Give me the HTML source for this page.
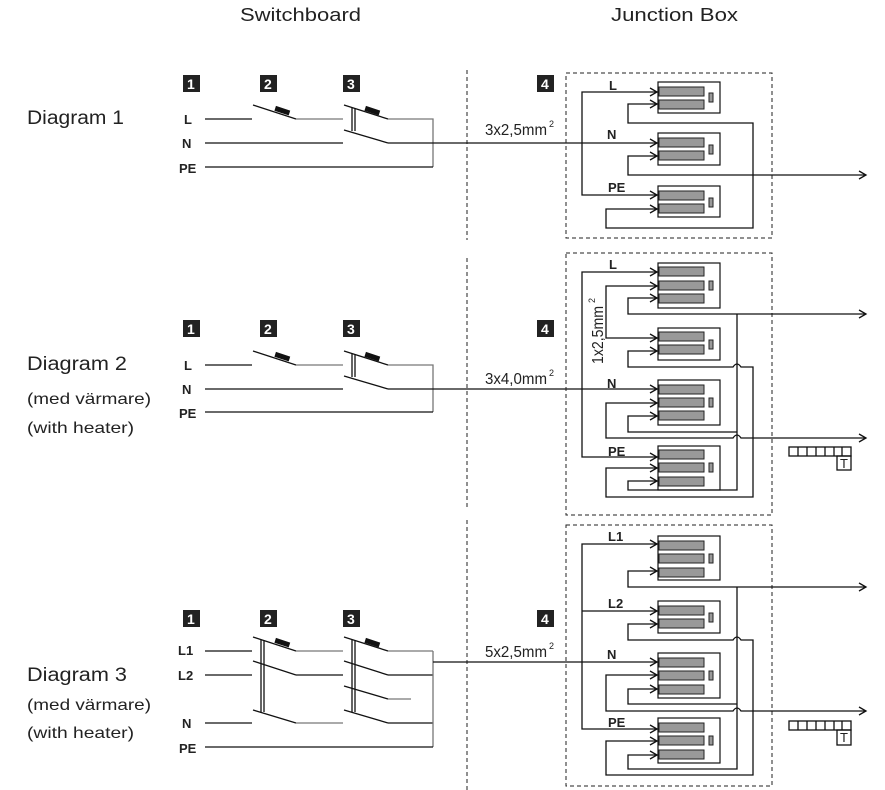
<!DOCTYPE html>
<html><head><meta charset="utf-8"><style>
html,body{margin:0;padding:0;background:#fff;}
svg{display:block;}
.t{font-family:"Liberation Sans",sans-serif;fill:#222;}
.lb{font-family:"Liberation Sans",sans-serif;font-weight:bold;font-size:13px;fill:#222;}
.nb{font-family:"Liberation Sans",sans-serif;font-weight:bold;font-size:14px;fill:#fff;}
.w{stroke:#111;stroke-width:1.3;fill:none;}
.g{stroke:#777;stroke-width:1.3;fill:none;}
.d{stroke:#222;stroke-width:1;fill:none;stroke-dasharray:4,3;}
.blk{fill:#fff;stroke:#111;stroke-width:1.2;}
.bar{fill:#999;stroke:#222;stroke-width:1;}
.cab{font-family:"Liberation Sans Narrow","Liberation Sans",sans-serif;fill:#222;}
</style></head><body>
<svg width="885" height="790" viewBox="0 0 885 790" xmlns="http://www.w3.org/2000/svg">
<text class="t" x="240" y="21" font-size="18" textLength="121" lengthAdjust="spacingAndGlyphs">Switchboard</text>
<text class="t" x="611" y="21" font-size="18" textLength="127" lengthAdjust="spacingAndGlyphs">Junction Box</text>

<line class="d" x1="467" y1="70" x2="467" y2="240"/>
<line class="d" x1="467" y1="258" x2="467" y2="510"/>
<line class="d" x1="467" y1="520" x2="467" y2="790"/>

<!-- ========== Diagram 1 ========== -->
<text class="t" x="27" y="124" font-size="19" textLength="97" lengthAdjust="spacingAndGlyphs">Diagram 1</text>
<rect x="183" y="75" width="17" height="17" fill="#222"/><text class="nb" x="187" y="89">1</text>
<rect x="260" y="75" width="17" height="17" fill="#222"/><text class="nb" x="264" y="89">2</text>
<rect x="343" y="75" width="17" height="17" fill="#222"/><text class="nb" x="347" y="89">3</text>
<rect x="537" y="75" width="17" height="17" fill="#222"/><text class="nb" x="541" y="89">4</text>
<text class="lb" x="184" y="124">L</text><text class="lb" x="182" y="148">N</text><text class="lb" x="179" y="173">PE</text>
<line class="w" x1="205" y1="119" x2="252" y2="119"/>
<line class="w" x1="253" y1="105" x2="296" y2="119"/>
<rect x="275" y="108" width="15" height="5" fill="#111" transform="rotate(18 282 110)"/>
<line class="g" x1="296" y1="119" x2="343" y2="119"/>
<line class="w" x1="344" y1="105" x2="388" y2="119"/>
<rect x="365" y="108" width="15" height="5" fill="#111" transform="rotate(18 372 110)"/>
<line class="w" x1="352" y1="108" x2="352" y2="131"/><line class="w" x1="355" y1="108" x2="355" y2="131"/>
<polyline class="g" points="388,119 433,119 433,167"/>
<line class="w" x1="205" y1="143" x2="343" y2="143"/>
<line class="w" x1="344" y1="130" x2="388" y2="143"/>
<line class="w" x1="205" y1="167" x2="433" y2="167"/>
<line class="w" x1="388" y1="143" x2="658" y2="143"/>
<text class="cab" x="485" y="135" style="font-size:16px" textLength="62" lengthAdjust="spacingAndGlyphs">3x2,5mm</text><text class="cab" x="549" y="127" style="font-size:9px">2</text>

<rect class="d" x="566" y="73" width="206" height="165"/>
<text class="lb" x="609" y="90">L</text><text class="lb" x="607" y="139">N</text><text class="lb" x="608" y="192">PE</text>
<rect class="blk" x="658" y="82" width="62" height="31"/><rect class="bar" x="659" y="87" width="45" height="9"/><rect class="bar" x="659" y="100" width="45" height="9"/><rect class="bar" x="709" y="93" width="4" height="9"/>
<rect class="blk" x="658" y="133" width="62" height="32"/><rect class="bar" x="659" y="138" width="45" height="9"/><rect class="bar" x="659" y="151" width="45" height="9"/><rect class="bar" x="709" y="145" width="4" height="9"/>
<rect class="blk" x="658" y="186" width="62" height="31"/><rect class="bar" x="659" y="191" width="45" height="9"/><rect class="bar" x="659" y="204" width="45" height="9"/><rect class="bar" x="709" y="198" width="4" height="9"/>
<polyline class="w" points="658,92 582,92 582,195 658,195"/>
<polyline class="w" points="658,104 628,104 628,123 753,123 753,228 606,228 606,209 658,209"/>
<polyline class="w" points="658,156 628,156 628,175 866,175"/>
<path class="w" d="M650,88 L657,92 L650,96 M650,100 L657,104 L650,108 M650,139 L657,143 L650,147 M650,152 L657,156 L650,160 M650,191 L657,195 L650,199 M650,205 L657,209 L650,213 M859,171 L866,175 L859,179"/>

<!-- ========== Diagram 2 ========== -->
<text class="t" x="27" y="370" font-size="19" textLength="100" lengthAdjust="spacingAndGlyphs">Diagram 2</text>
<text class="t" x="27" y="404" font-size="16" textLength="124" lengthAdjust="spacingAndGlyphs">(med värmare)</text>
<text class="t" x="27" y="433" font-size="16" textLength="107" lengthAdjust="spacingAndGlyphs">(with heater)</text>
<rect x="183" y="320" width="17" height="17" fill="#222"/><text class="nb" x="187" y="334">1</text>
<rect x="260" y="320" width="17" height="17" fill="#222"/><text class="nb" x="264" y="334">2</text>
<rect x="343" y="320" width="17" height="17" fill="#222"/><text class="nb" x="347" y="334">3</text>
<rect x="537" y="320" width="17" height="17" fill="#222"/><text class="nb" x="541" y="334">4</text>
<text class="lb" x="184" y="370">L</text><text class="lb" x="182" y="394">N</text><text class="lb" x="179" y="418">PE</text>
<line class="w" x1="205" y1="365" x2="252" y2="365"/>
<line class="w" x1="253" y1="351" x2="296" y2="365"/>
<rect x="275" y="354" width="15" height="5" fill="#111" transform="rotate(18 282 356)"/>
<line class="g" x1="296" y1="365" x2="343" y2="365"/>
<line class="w" x1="344" y1="351" x2="388" y2="365"/>
<rect x="365" y="354" width="15" height="5" fill="#111" transform="rotate(18 372 356)"/>
<line class="w" x1="352" y1="354" x2="352" y2="377"/><line class="w" x1="355" y1="354" x2="355" y2="377"/>
<polyline class="g" points="388,365 433,365 433,412"/>
<line class="w" x1="205" y1="389" x2="343" y2="389"/>
<line class="w" x1="344" y1="376" x2="388" y2="389"/>
<line class="w" x1="205" y1="412" x2="433" y2="412"/>
<line class="w" x1="388" y1="389" x2="658" y2="389"/>
<text class="cab" x="485" y="384" style="font-size:16px" textLength="62" lengthAdjust="spacingAndGlyphs">3x4,0mm</text><text class="cab" x="549" y="376" style="font-size:9px">2</text>

<rect class="d" x="566" y="253" width="206" height="262"/>
<text class="lb" x="609" y="269">L</text><text class="lb" x="607" y="388">N</text><text class="lb" x="608" y="456">PE</text>
<text class="cab" transform="translate(603,364) rotate(-90)" x="0" y="0" style="font-size:16px" textLength="58" lengthAdjust="spacingAndGlyphs">1x2,5mm</text><text class="cab" transform="translate(595,303) rotate(-90)" style="font-size:9px">2</text>
<rect class="blk" x="658" y="263" width="62" height="45"/><rect class="bar" x="659" y="267" width="45" height="9"/><rect class="bar" x="659" y="281" width="45" height="9"/><rect class="bar" x="659" y="294" width="45" height="9"/><rect class="bar" x="709" y="281" width="4" height="9"/>
<rect class="blk" x="658" y="328" width="62" height="32"/><rect class="bar" x="659" y="332" width="45" height="9"/><rect class="bar" x="659" y="345" width="45" height="9"/><rect class="bar" x="709" y="340" width="4" height="9"/>
<rect class="blk" x="658" y="380" width="62" height="45"/><rect class="bar" x="659" y="385" width="45" height="9"/><rect class="bar" x="659" y="398" width="45" height="9"/><rect class="bar" x="659" y="411" width="45" height="9"/><rect class="bar" x="709" y="398" width="4" height="9"/>
<rect class="blk" x="658" y="446" width="62" height="44"/><rect class="bar" x="659" y="450" width="45" height="9"/><rect class="bar" x="659" y="463" width="45" height="9"/><rect class="bar" x="659" y="477" width="45" height="9"/><rect class="bar" x="709" y="463" width="4" height="9"/>
<polyline class="w" points="658,272 582,272 582,457 658,457"/>
<polyline class="w" points="658,286 606,286 606,338 658,338"/>
<polyline class="w" points="658,298 628,298 628,314 866,314"/>
<path class="w" d="M658,351 L628,351 L628,367 L733,367 Q737,361 741,367 L753,367 L753,497 L606,497 L606,468 L658,468"/>
<path class="w" d="M658,403 L606,403 L606,438 L733,438 Q737,432 741,438 L866,438"/>
<polyline class="w" points="658,416 628,416 628,432 737,432"/>
<polyline class="w" points="737,314 737,490 628,490 628,481 658,481"/>
<path class="w" d="M650,268 L657,272 L650,276 M650,282 L657,286 L650,290 M650,294 L657,298 L650,302 M650,334 L657,338 L650,342 M650,347 L657,351 L650,355 M650,385 L657,389 L650,393 M650,399 L657,403 L650,407 M650,412 L657,416 L650,420 M650,453 L657,457 L650,461 M650,464 L657,468 L650,472 M650,477 L657,481 L650,485 M859,310 L866,314 L859,318 M859,434 L866,438 L859,442"/>
<g class="w" stroke-width="1">
<rect x="789" y="447" width="62" height="9"/>
<line x1="798" y1="447" x2="798" y2="456"/><line x1="807" y1="447" x2="807" y2="456"/><line x1="816" y1="447" x2="816" y2="456"/><line x1="825" y1="447" x2="825" y2="456"/><line x1="834" y1="447" x2="834" y2="456"/><line x1="842" y1="447" x2="842" y2="456"/>
<rect x="837" y="456" width="14" height="14"/>
</g>
<text class="t" x="840" y="468" font-size="13">T</text>

<!-- ========== Diagram 3 ========== -->
<text class="t" x="27" y="681" font-size="19" textLength="100" lengthAdjust="spacingAndGlyphs">Diagram 3</text>
<text class="t" x="27" y="710" font-size="16" textLength="124" lengthAdjust="spacingAndGlyphs">(med värmare)</text>
<text class="t" x="27" y="738" font-size="16" textLength="107" lengthAdjust="spacingAndGlyphs">(with heater)</text>
<rect x="183" y="610" width="17" height="17" fill="#222"/><text class="nb" x="187" y="624">1</text>
<rect x="260" y="610" width="17" height="17" fill="#222"/><text class="nb" x="264" y="624">2</text>
<rect x="343" y="610" width="17" height="17" fill="#222"/><text class="nb" x="347" y="624">3</text>
<rect x="537" y="610" width="17" height="17" fill="#222"/><text class="nb" x="541" y="624">4</text>
<text class="lb" x="178" y="655">L1</text><text class="lb" x="178" y="680">L2</text><text class="lb" x="182" y="728">N</text><text class="lb" x="179" y="753">PE</text>
<line class="w" x1="205" y1="651" x2="252" y2="651"/>
<line class="w" x1="205" y1="675" x2="252" y2="675"/>
<line class="w" x1="205" y1="723" x2="252" y2="723"/>
<line class="w" x1="253" y1="637" x2="296" y2="651"/>
<line class="w" x1="253" y1="661" x2="296" y2="675"/>
<line class="w" x1="253" y1="710" x2="296" y2="723"/>
<rect x="275" y="640" width="15" height="5" fill="#111" transform="rotate(18 282 642)"/>
<line class="w" x1="261" y1="640" x2="261" y2="712"/><line class="w" x1="264" y1="640" x2="264" y2="712"/>
<line class="g" x1="296" y1="651" x2="343" y2="651"/>
<line class="w" x1="296" y1="675" x2="343" y2="675"/>
<line class="g" x1="296" y1="723" x2="343" y2="723"/>
<line class="w" x1="344" y1="637" x2="388" y2="651"/>
<line class="w" x1="344" y1="661" x2="388" y2="675"/>
<line class="w" x1="344" y1="686" x2="388" y2="699"/>
<line class="w" x1="344" y1="710" x2="388" y2="723"/>
<rect x="365" y="640" width="15" height="5" fill="#111" transform="rotate(18 372 642)"/>
<line class="w" x1="352" y1="640" x2="352" y2="712"/><line class="w" x1="355" y1="640" x2="355" y2="712"/>
<line class="g" x1="388" y1="651" x2="433" y2="651"/>
<line class="w" x1="388" y1="675" x2="433" y2="675"/>
<line class="g" x1="388" y1="699" x2="411" y2="699"/>
<line class="w" x1="388" y1="723" x2="433" y2="723"/>
<line class="g" x1="433" y1="651" x2="433" y2="747"/>
<line class="w" x1="205" y1="747" x2="433" y2="747"/>
<line class="w" x1="433" y1="662" x2="658" y2="662"/>
<text class="cab" x="485" y="657" style="font-size:16px" textLength="62" lengthAdjust="spacingAndGlyphs">5x2,5mm</text><text class="cab" x="549" y="649" style="font-size:9px">2</text>

<rect class="d" x="566" y="525" width="206" height="261"/>
<text class="lb" x="608" y="541">L1</text><text class="lb" x="608" y="608">L2</text><text class="lb" x="607" y="659">N</text><text class="lb" x="608" y="727">PE</text>
<rect class="blk" x="658" y="536" width="62" height="44"/><rect class="bar" x="659" y="541" width="45" height="9"/><rect class="bar" x="659" y="554" width="45" height="9"/><rect class="bar" x="659" y="568" width="45" height="9"/><rect class="bar" x="709" y="554" width="4" height="9"/>
<rect class="blk" x="658" y="601" width="62" height="32"/><rect class="bar" x="659" y="606" width="45" height="9"/><rect class="bar" x="659" y="619" width="45" height="9"/><rect class="bar" x="709" y="613" width="4" height="9"/>
<rect class="blk" x="658" y="653" width="62" height="45"/><rect class="bar" x="659" y="658" width="45" height="9"/><rect class="bar" x="659" y="671" width="45" height="9"/><rect class="bar" x="659" y="685" width="45" height="9"/><rect class="bar" x="709" y="671" width="4" height="9"/>
<rect class="blk" x="658" y="718" width="62" height="45"/><rect class="bar" x="659" y="723" width="45" height="9"/><rect class="bar" x="659" y="736" width="45" height="9"/><rect class="bar" x="659" y="750" width="45" height="9"/><rect class="bar" x="709" y="736" width="4" height="9"/>
<polyline class="w" points="658,544 582,544 582,729 658,729"/>
<line class="w" x1="582" y1="611" x2="658" y2="611"/>
<polyline class="w" points="658,571 628,571 628,587 866,587"/>
<path class="w" d="M658,624 L628,624 L628,640 L733,640 Q737,634 741,640 L753,640 L753,775 L606,775 L606,741 L658,741"/>
<path class="w" d="M658,675 L606,675 L606,711 L733,711 Q737,705 741,711 L866,711"/>
<polyline class="w" points="658,689 628,689 628,704 737,704"/>
<polyline class="w" points="737,587 737,769 628,769 628,755 658,755"/>
<path class="w" d="M650,540 L657,544 L650,548 M650,567 L657,571 L650,575 M650,607 L657,611 L650,615 M650,620 L657,624 L650,628 M650,658 L657,662 L650,666 M650,671 L657,675 L650,679 M650,685 L657,689 L650,693 M650,725 L657,729 L650,733 M650,737 L657,741 L650,745 M650,751 L657,755 L650,759 M859,583 L866,587 L859,591 M859,707 L866,711 L859,715"/>
<g class="w" stroke-width="1">
<rect x="789" y="721" width="62" height="9"/>
<line x1="798" y1="721" x2="798" y2="730"/><line x1="807" y1="721" x2="807" y2="730"/><line x1="816" y1="721" x2="816" y2="730"/><line x1="825" y1="721" x2="825" y2="730"/><line x1="834" y1="721" x2="834" y2="730"/><line x1="842" y1="721" x2="842" y2="730"/>
<rect x="837" y="730" width="14" height="15"/>
</g>
<text class="t" x="840" y="742" font-size="13">T</text>
</svg>
</body></html>
